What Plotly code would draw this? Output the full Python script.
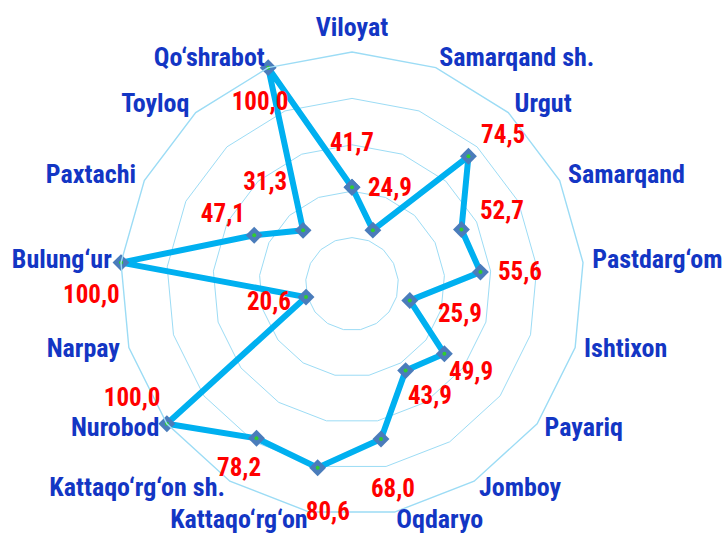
import plotly.graph_objects as go

# Districts clockwise from the top, and the indicator value for each (%)
districts = [
    "Viloyat", "Samarqand sh.", "Urgut", "Samarqand", "Pastdarg‘om",
    "Ishtixon", "Payariq", "Jomboy", "Oqdaryo", "Kattaqo‘rg‘on",
    "Kattaqo‘rg‘on sh.", "Nurobod", "Narpay", "Bulung‘ur", "Paxtachi",
    "Toyloq", "Qo‘shrabot",
]
values = [41.7, 24.9, 74.5, 52.7, 55.6, 25.9, 49.9, 43.9, 68.0, 80.6,
          78.2, 100.0, 20.6, 100.0, 47.1, 31.3, 100.0]
ring_values = [20, 40, 60, 80]

# Nudges for the value labels (radial units, degrees) so they sit beside their markers
label_dr = [18.2, 18.8, 16.6, 18.8, 16.9, 22.6, 14.4, 15.6, 22.9, 19.1,
            15.6, -3.6, 16.2, 0.3, 15.8, 25.8, -12.9]
label_dtheta = [0, 0.8, 3.3, 1.2, 1.9, 0.6, 0, -2.6, -0.6, -4.6,
                -0.5, 6.0, 2.4, -8.4, 1.3, 1.4, -5.9]
label_pos = ["middle center"] * 17
label_pos[11] = "middle left"
label_pos[13] = "middle left"

FONT = "Roboto Condensed, Liberation Sans Narrow, Arial Narrow, sans-serif"
GRID = "#9CDCF5"
BLUE_TEXT = "#1336C4"
NAME_RADIUS = 104  # district names sit just outside the outer ring

# Geometry (pixels): chart centre and outer-ring radius
W, H = 726, 534
CX, CY, R_OUT = 352, 284, 232
R_TEXT = 250  # radius of the transparent overlay that carries the text
text_range = 100.0 * R_TEXT / R_OUT

n = len(districts)
step = 360.0 / n
angles = [i * step for i in range(n)]
label_text = [f"{v:.1f}".replace(".", ",") for v in values]
label_r = [v + d for v, d in zip(values, label_dr)]
label_theta = [a + d for a, d in zip(angles, label_dtheta)]

# District names: centred at the top, left-aligned on the right half, right-aligned on the left half
name_pos = ["top center" if a == 0 else ("middle right" if a < 180 else "middle left")
            for a in angles]

closed_theta = districts + districts[:1]
closed_r = values + values[:1]

fig = go.Figure()

fig.add_trace(go.Scatterpolar(
    r=closed_r, theta=closed_theta, mode="lines+markers",
    line=dict(color="#00B0F0", width=6),
    marker=dict(symbol="diamond", size=13, color="#4A7CBB"),
    subplot="polar", showlegend=False, cliponaxis=False,
))
fig.add_trace(go.Scatterpolar(
    r=values, theta=districts, mode="markers",
    marker=dict(symbol="circle", size=4, color="#30CC30"),
    subplot="polar", showlegend=False, cliponaxis=False,
))
fig.add_trace(go.Scatterpolar(
    r=label_r, theta=label_theta, mode="text", text=label_text,
    textposition=label_pos,
    textfont=dict(family=FONT, size=25, color="#FF0000", weight="bold"),
    subplot="polar2", showlegend=False, cliponaxis=False,
))
fig.add_trace(go.Scatterpolar(
    r=[NAME_RADIUS] * n, theta=angles, mode="text", text=districts,
    textposition=name_pos,
    textfont=dict(family=FONT, size=26, color=BLUE_TEXT, weight="bold"),
    subplot="polar2", showlegend=False, cliponaxis=False,
))


def square_domain(radius):
    return dict(
        x=[(CX - radius) / W, (CX + radius) / W],
        y=[(H - CY - radius) / H, (H - CY + radius) / H],
    )


fig.update_layout(
    width=W, height=H,
    margin=dict(l=0, r=0, t=0, b=0),
    paper_bgcolor="white",
    plot_bgcolor="white",
    polar=dict(
        domain=square_domain(R_OUT),
        bgcolor="white",
        gridshape="linear",
        angularaxis=dict(
            type="category", categoryarray=districts,
            direction="clockwise", rotation=90,
            showgrid=False, showline=True, linecolor=GRID, linewidth=1.4,
            ticks="", showticklabels=False,
        ),
        radialaxis=dict(
            range=[0, 100], tickvals=ring_values, showticklabels=False,
            showline=False, ticks="", gridcolor=GRID, gridwidth=1.4,
        ),
    ),
    polar2=dict(
        domain=square_domain(R_TEXT),
        bgcolor="rgba(0,0,0,0)",
        angularaxis=dict(visible=False, direction="clockwise", rotation=90,
                         thetaunit="degrees"),
        radialaxis=dict(visible=False, range=[0, text_range]),
    ),
)

fig.write_html("out.html")
